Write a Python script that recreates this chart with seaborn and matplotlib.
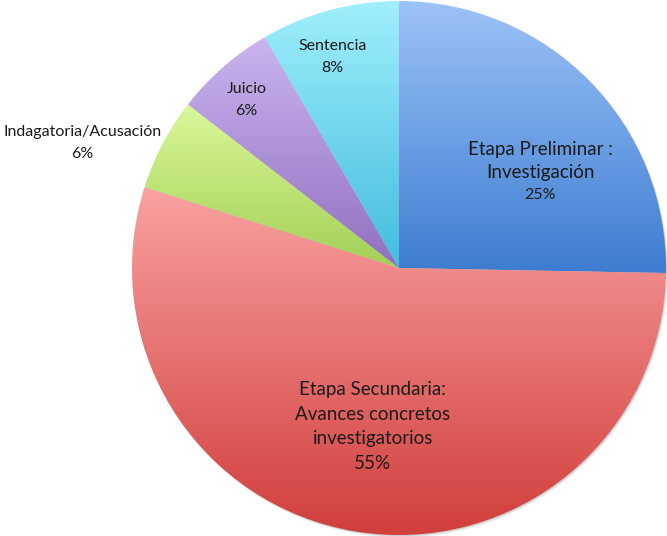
import numpy as np
import matplotlib
matplotlib.use("Agg")
import matplotlib.pyplot as plt
import seaborn as sns
from matplotlib.colors import LinearSegmentedColormap
from matplotlib.patches import Circle

# datos
etapas = ["Etapa Preliminar :\nInvestigación",
          "Etapa Secundaria:\nAvances concretos\ninvestigatorios",
          "Indagatoria/Acusación",
          "Juicio",
          "Sentencia"]
valores = [25.3, 54.6, 5.6, 6.1, 8.4]

# colores (arriba claro, abajo oscuro)
color_top = ["#9dc3f8", "#f9a2a2", "#daf89a", "#cbb4ef", "#a0effc"]
color_bot = ["#3d7cd0", "#d13e3b", "#a2cf55", "#9070bf", "#42bcdd"]

# posición de etiquetas: radio y desfase de ángulo respecto al centro de la porción
lab_r = [0.64, 0.601, 1.275, 0.85, 0.83]
lab_da = [-10.3, 0.0, 6.2, 1.0, 2.3]
name_size = [13.5, 13.5, 11.5, 11.5, 11.5]
pct_size = [11.5, 13.5, 11.5, 11.5, 11.5]
pitch_px = [22.5, 24.5, 21.5, 21.5, 22]

sns.set_theme(style="white")
plt.rcParams["font.family"] = ["Lato", "DejaVu Sans"]

fig = plt.figure(figsize=(6.67, 5.36), dpi=100)
ax = fig.add_axes([0, 0, 1, 1])

R = 267.0
cx, cy = 399.0, 268.0

wedges, _ = ax.pie(valores, startangle=90, counterclock=False, radius=1,
                   center=(0, 0), wedgeprops=dict(linewidth=0))

# sombra suave
for k, a in [(3, 0.15), (2, 0.2), (1, 0.3)]:
    ax.add_patch(Circle((k * 0.6 / R, -k * 0.8 / R), 1, color="#9a9a9a",
                        alpha=a, lw=0, zorder=0))

grad = np.linspace(0, 1, 256).reshape(-1, 1)
for w, c0, c1 in zip(wedges, color_bot, color_top):
    ext = w.get_path().get_extents()
    cmap = LinearSegmentedColormap.from_list("g", [c0, c1])
    im = ax.imshow(grad, cmap=cmap, origin="lower", aspect="auto",
                   extent=[ext.x0, ext.x1, ext.y0, ext.y1], zorder=2)
    im.set_clip_path(w)
    w.set_facecolor("none")

total = sum(valores)
for w, name, v, r, da, ns, ps, pp in zip(wedges, etapas, valores, lab_r, lab_da,
                                         name_size, pct_size, pitch_px):
    ang = np.deg2rad((w.theta1 + w.theta2) / 2 + da)
    x, y = r * np.cos(ang), r * np.sin(ang)
    lines = name.split("\n") + [f"{v / total * 100:.0f}%"]
    sizes = [ns] * (len(lines) - 1) + [ps]
    step = pp / R
    y0 = y + step * (len(lines) - 1) / 2
    for i, (txt, fs) in enumerate(zip(lines, sizes)):
        ax.text(x, y0 - i * step, txt, ha="center", va="center",
                fontsize=fs, color="#1a1a1a", zorder=5)

ax.set_xlim(-cx / R, (667 - cx) / R)
ax.set_ylim(-(536 - cy) / R, cy / R)
ax.set_aspect("equal")
ax.axis("off")

fig.savefig("out.png", dpi=100, facecolor="white")
